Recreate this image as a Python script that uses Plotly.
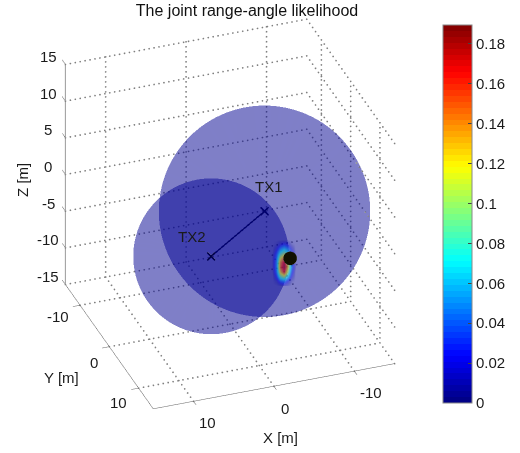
import numpy as np
import plotly.graph_objects as go

# --- data ---
x_ticks = [-10, 0, 10]
y_ticks = [-10, 0, 10]
z_ticks = [-15, -10, -5, 0, 5, 10, 15]
axis_lim = [-15, 15]
cbar_ticks = [0, 0.02, 0.04, 0.06, 0.08, 0.1, 0.12, 0.14, 0.16, 0.18]
cbar_max = 0.1895
tx_names = ["TX1", "TX2"]
tx_x = [-4.0, 5.35]
tx_y = [0.8, 8.26]
tx_z = [0.0, 0.0]
tx_radius = [12.35, 9.1]
target_xyz = [-2.43, 13.8, 1.28]
likelihood = [
    [0.000, 0.000, 0.000, 0.000, 0.000, 0.000, 0.000],
    [0.000, 0.005, 0.020, 0.030, 0.020, 0.005, 0.000],
    [0.000, 0.020, 0.050, 0.065, 0.050, 0.020, 0.000],
    [0.005, 0.035, 0.080, 0.100, 0.075, 0.030, 0.000],
    [0.010, 0.045, 0.115, 0.145, 0.100, 0.040, 0.000],
    [0.010, 0.050, 0.140, 0.175, 0.115, 0.045, 0.005],
    [0.010, 0.050, 0.145, 0.185, 0.120, 0.045, 0.005],
    [0.005, 0.045, 0.125, 0.160, 0.100, 0.035, 0.000],
    [0.000, 0.030, 0.085, 0.105, 0.065, 0.020, 0.000],
    [0.000, 0.010, 0.040, 0.050, 0.025, 0.005, 0.000],
    [0.000, 0.000, 0.005, 0.010, 0.005, 0.000, 0.000],
]
blob_center = [-1.85, 13.45, 0.55]
blob_half_width = 1.35
blob_half_height = 2.7

# view (orthographic, az 20 / el 31)
az, el = np.radians(20), np.radians(31)
eye_dir = np.array([np.sin(az) * np.cos(el), np.cos(az) * np.cos(el), np.sin(el)])
right = np.cross([0, 0, 1], eye_dir); right /= np.linalg.norm(right)
up = np.cross(eye_dir, right)
CAM = 2.0
SCENE_RANGE = [-40, 40]          # wider than the box so nothing is clipped
ASPECT = 1.2 * 80 / 30


def jet(t):
    r = np.clip(min(4 * t - 1.5, -4 * t + 4.5), 0, 1)
    g = np.clip(min(4 * t - 0.5, -4 * t + 3.5), 0, 1)
    b = np.clip(min(4 * t + 0.5, -4 * t + 2.5), 0, 1)
    return f"rgb({int(r*255)},{int(g*255)},{int(b*255)})"


N = 64
jet_scale = []
for i in range(N):
    c = jet((i + 0.5) / N)
    jet_scale += [[i / N, c], [(i + 1) / N, c]]

GRID = "#808080"
AX_Z = "#999999"
AX = "#666666"
TXT = "#1a1a1a"
FONT = "Liberation Sans"

fig = go.Figure()


def seg(pts, color, width=1):
    xs, ys, zs = [], [], []
    for a, b in pts:
        xs += [a[0], b[0], None]; ys += [a[1], b[1], None]; zs += [a[2], b[2], None]
    fig.add_trace(go.Scatter3d(x=xs, y=ys, z=zs, mode="lines",
                               line=dict(color=color, width=width),
                               showlegend=False, hoverinfo="skip"))


lo, hi = axis_lim
grid = []
for v in x_ticks:
    grid.append(((v, lo, lo), (v, hi, lo)))
    grid.append(((v, lo, lo), (v, lo, hi)))
for v in y_ticks:
    grid.append(((lo, v, lo), (hi, v, lo)))
    grid.append(((lo, v, lo), (lo, v, hi)))
for v in z_ticks:
    grid.append(((hi, lo, v), (lo, lo, v)))
    grid.append(((lo, lo, v), (lo, hi, v)))

# dotted grid: one dot every ~5 px on screen
gx, gy, gz = [], [], []
for a, b in grid:
    a, b = np.array(a, float), np.array(b, float)
    d = b - a
    px = np.hypot(d @ right, d @ up) * 8.585
    t = np.linspace(0, 1, int(px / 5) + 1)
    gx += list(a[0] + t * d[0]); gy += list(a[1] + t * d[1]); gz += list(a[2] + t * d[2])
fig.add_trace(go.Scatter3d(x=gx, y=gy, z=gz, mode="markers",
                           marker=dict(size=1, color=GRID, line=dict(width=0)),
                           showlegend=False, hoverinfo="skip"))

# axes and ticks
seg([((hi, lo, lo), (hi, lo, hi))], AX_Z, 2)
seg([((hi, lo, lo), (hi, hi, lo)), ((hi, hi, lo), (lo, hi, lo))], AX, 1)
ticks = [((hi, v, lo), (hi + 0.9, v, lo)) for v in y_ticks]
ticks += [((v, hi, lo), (v, hi + 0.9, lo)) for v in x_ticks]
ticks += [((hi, lo, v), (hi, lo - 1.1, v)) for v in z_ticks]
seg(ticks, AX, 1)

# range circles: the spheres drawn as their camera-facing outline discs
ang = np.linspace(0, 2 * np.pi, 181)[:-1]
for cx, cy, cz, r in zip(tx_x, tx_y, tx_z, tx_radius):
    pts = (np.array([cx, cy, cz])[None, :]
           + r * np.cos(ang)[:, None] * right[None, :]
           + r * np.sin(ang)[:, None] * up[None, :])
    n = len(ang)
    fig.add_trace(go.Mesh3d(
        x=[cx] + list(pts[:, 0]), y=[cy] + list(pts[:, 1]), z=[cz] + list(pts[:, 2]),
        i=[0] * n, j=[1 + q for q in range(n)], k=[1 + (q + 1) % n for q in range(n)],
        color="rgb(0,0,145)", opacity=0.5,
        lighting=dict(ambient=1, diffuse=0, specular=0, roughness=1, fresnel=0),
        showscale=False, hoverinfo="skip"))

# baseline + transmitters
fig.add_trace(go.Scatter3d(x=tx_x, y=tx_y, z=tx_z, mode="lines+markers",
                           line=dict(color="#00004a", width=3),
                           marker=dict(symbol="x", size=2, color="#00004a"),
                           showlegend=False, hoverinfo="skip"))

# likelihood patch (also carries the colour bar)
L = np.array(likelihood)
uu = np.linspace(-blob_half_width, blob_half_width, L.shape[1])
vv = np.linspace(blob_half_height, -blob_half_height, L.shape[0])
U, V = np.meshgrid(uu, vv)
c0 = np.array(blob_center)
fig.add_trace(go.Surface(
    x=c0[0] + U * right[0] + V * up[0],
    y=c0[1] + U * right[1] + V * up[1],
    z=c0[2] + U * right[2] + V * up[2],
    surfacecolor=L, cmin=0, cmax=cbar_max, colorscale=jet_scale,
    opacityscale=[[0, 0], [0.05, 0.2], [0.2, 0.5], [1, 0.55]],
    lighting=dict(ambient=1, diffuse=0, specular=0, roughness=1, fresnel=0),
    hoverinfo="skip",
    colorbar=dict(x=443 / 520, xanchor="left", xpad=0, ypad=0, thickness=29,
                  thicknessmode="pixels", lenmode="fraction", len=378 / 453,
                  y=(453 - 403) / 453, yanchor="bottom",
                  tickvals=cbar_ticks, ticktext=[f"{t:g}" for t in cbar_ticks],
                  ticks="inside", ticklen=4, tickcolor="#444444",
                  outlinecolor="#888888", outlinewidth=1,
                  tickfont=dict(family=FONT, size=15, color=TXT))))

# target
fig.add_trace(go.Scatter3d(x=[target_xyz[0]], y=[target_xyz[1]], z=[target_xyz[2]],
                           mode="markers", marker=dict(size=8, color="#111100", line=dict(width=0)),
                           showlegend=False, hoverinfo="skip"))

ann = []


def note(x, y, z, text, dx=0, dy=0, size=15, angle=0):
    ann.append(dict(x=x, y=y, z=z, text=text, showarrow=False, xshift=dx, yshift=dy,
                    textangle=angle, xanchor="center", yanchor="middle",
                    font=dict(family=FONT, size=size, color=TXT)))


for v in z_ticks:
    note(hi, lo, v, f"{v}", -17, 8)
for v, dx, dy in zip(y_ticks, [-22, -15, -20], [-11, -16, -14]):
    note(hi, v, lo, f"{v}", dx, dy)
for v, dx, dy in zip(x_ticks, [17, 11, 14], [-21, -22, -21]):
    note(v, hi, lo, f"{v}", dx, dy)
note(0, hi, lo, "X [m]", 7, -51)
note(hi, 0, lo, "Y [m]", -48, -31)
note(hi, lo, 0, "Z [m]", -43, -5, angle=-90)
for n, x, y, z, dx, dy in zip(tx_names, tx_x, tx_y, tx_z, [4, -19], [25, 20]):
    note(x, y, z, n, dx, dy)

axis_off = dict(visible=False, range=SCENE_RANGE, autorange=False)
fig.update_layout(
    width=520, height=453, margin=dict(l=0, r=0, t=0, b=0),
    paper_bgcolor="white", showlegend=False,
    title=dict(text="The joint range-angle likelihood", x=247 / 520, xanchor="center",
               y=1 - 10 / 453, yanchor="middle",
               font=dict(family=FONT, size=16, color="#111111")),
    scene=dict(
        domain=dict(x=[0, 460 / 520], y=[1 - 428 / 453, 1]),
        xaxis=axis_off, yaxis=axis_off, zaxis=axis_off,
        aspectmode="manual", aspectratio=dict(x=ASPECT, y=ASPECT, z=ASPECT),
        camera=dict(eye=dict(x=CAM * eye_dir[0], y=CAM * eye_dir[1], z=CAM * eye_dir[2]),
                    up=dict(x=0, y=0, z=1), center=dict(x=0, y=0, z=0),
                    projection=dict(type="orthographic")),
        annotations=ann,
    ),
)
fig.write_html("out.html", config={"displayModeBar": False},
               post_script="document.body.style.margin='0';document.body.style.overflow='hidden';")
